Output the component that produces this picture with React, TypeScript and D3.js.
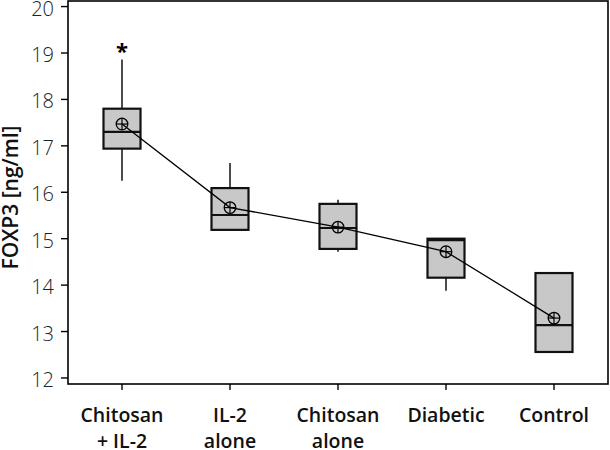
import React from "react";
import * as d3 from "d3";

const categories = [["Chitosan", "+ IL-2"], ["IL-2", "alone"], ["Chitosan", "alone"], ["Diabetic"], ["Control"]];
const whiskerLow = [16.25, 15.19, 14.72, 13.88, 12.56];
const q1 = [16.94, 15.19, 14.78, 14.16, 12.56];
const median = [17.3, 15.51, 15.23, 14.97, 13.14];
const q3 = [17.8, 16.09, 15.75, 15.0, 14.26];
const whiskerHigh = [18.86, 16.63, 15.84, 15.0, 14.26];
const means = [17.47, 15.67, 15.25, 14.72, 13.29];
const outliers = [{ group: 0, value: 19.07 }];
const yTicks = [12, 13, 14, 15, 16, 17, 18, 19, 20];

const W = 610;
const H = 450;
const left = 68, right = 608, top = 1, bottom = 384;

export default function App() {
  const x = d3.scaleBand<number>().domain(d3.range(categories.length)).range([left, right]).padding(0);
  const cx = (i: number) => (x(i) as number) + x.bandwidth() / 2;
  const y = d3.scaleLinear().domain([11.87, 20.12]).range([bottom, top]);
  const boxW = 37;
  const line = d3.line<number>().x((_, i) => cx(i)).y((d) => y(d));
  const font = "'Open Sans', sans-serif";
  return (
    <div style={{ position: "absolute", left: 0, top: 0 }}>
      <svg width={W} height={H} style={{ display: "block", background: "#fff" }}>
        {/* frame */}
        <rect x={left} y={top} width={right - left} height={bottom - top} fill="none" stroke="#000" strokeWidth={1.6} />
        {/* y ticks */}
        {yTicks.map((t) => (
          <g key={t}>
            <line x1={left - 7} x2={left} y1={y(t)} y2={y(t)} stroke="#000" strokeWidth={1.4} />
            <text x={left - 14} y={y(t) + 2} dy="0.35em" textAnchor="end" fontFamily={font} fontWeight={300} fontSize={20} fill="#222">
              {t}
            </text>
          </g>
        ))}
        {/* x ticks and labels */}
        {categories.map((c, i) => (
          <g key={i}>
            <line x1={cx(i)} x2={cx(i)} y1={bottom} y2={bottom + 6} stroke="#000" strokeWidth={1.4} />
            {c.map((s, j) => (
              <text key={j} x={cx(i)} y={bottom + 31 + j * 26} dy="0.35em" textAnchor="middle" fontFamily={font} fontWeight={600} fontSize={19.5} fill="#111">
                {s}
              </text>
            ))}
          </g>
        ))}
        {/* y title */}
        <text transform={`translate(11,${(top + bottom) / 2 + 5}) rotate(-90)`} dy="0.35em" textAnchor="middle" fontFamily={font} fontWeight={600} fontSize={21} fill="#111">
          FOXP3 [ng/ml]
        </text>
        {/* boxes */}
        {categories.map((_, i) => (
          <g key={i}>
            <line x1={cx(i)} x2={cx(i)} y1={y(whiskerHigh[i])} y2={y(q3[i])} stroke="#000" strokeWidth={1.4} />
            <line x1={cx(i)} x2={cx(i)} y1={y(q1[i])} y2={y(whiskerLow[i])} stroke="#000" strokeWidth={1.4} />
            <rect x={cx(i) - boxW / 2} y={y(q3[i])} width={boxW} height={y(q1[i]) - y(q3[i])} fill="#c8c8c8" stroke="#111" strokeWidth={2.2} />
            <line x1={cx(i) - boxW / 2} x2={cx(i) + boxW / 2} y1={y(median[i])} y2={y(median[i])} stroke="#111" strokeWidth={2.2} />
          </g>
        ))}
        {/* mean connect line */}
        <path d={line(means) || ""} fill="none" stroke="#000" strokeWidth={1.3} />
        {means.map((m, i) => (
          <g key={i}>
            <circle cx={cx(i)} cy={y(m)} r={5.8} fill="none" stroke="#000" strokeWidth={1.3} />
            <line x1={cx(i) - 5.8} x2={cx(i) + 5.8} y1={y(m)} y2={y(m)} stroke="#000" strokeWidth={1.2} />
            <line x1={cx(i)} x2={cx(i)} y1={y(m) - 5.8} y2={y(m) + 5.8} stroke="#000" strokeWidth={1.2} />
          </g>
        ))}
        {/* outliers */}
        {outliers.map((o, k) => (
          <text key={k} x={cx(o.group)} y={y(o.value) + 9} textAnchor="middle" fontFamily={font} fontWeight={700} fontSize={22} fill="#000">
            *
          </text>
        ))}
      </svg>
    </div>
  );
}
